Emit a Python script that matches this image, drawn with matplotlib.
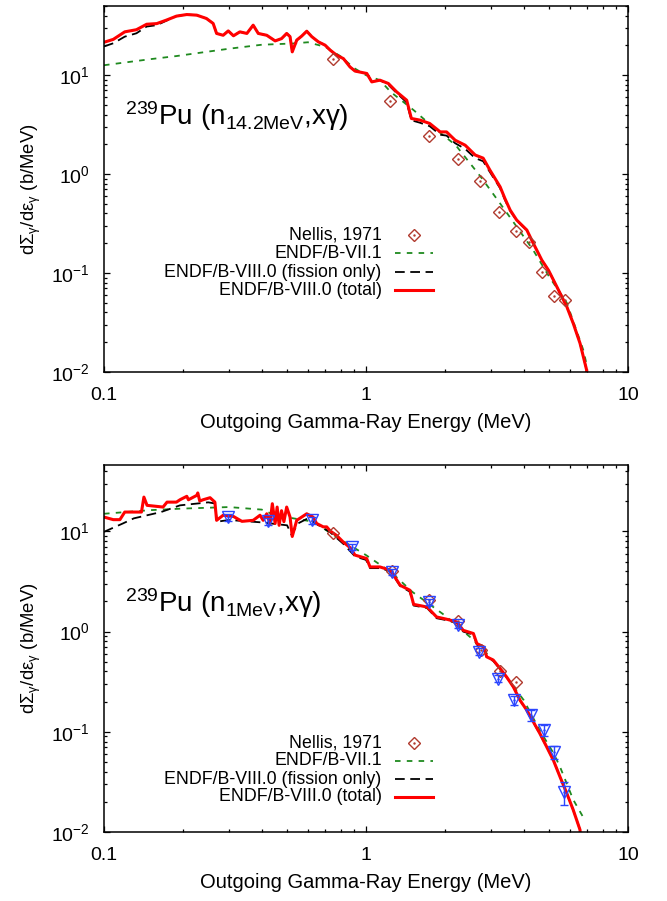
import matplotlib
matplotlib.use("Agg")
import matplotlib.pyplot as plt
from matplotlib.ticker import LogLocator, FixedLocator, FixedFormatter, NullFormatter

plt.rcParams['font.family'] = ['Liberation Sans', 'DejaVu Sans']
plt.rcParams['mathtext.fontset'] = 'custom'
plt.rcParams['mathtext.rm'] = 'Liberation Sans'
plt.rcParams['mathtext.it'] = 'Liberation Sans:italic'
plt.rcParams['mathtext.bf'] = 'Liberation Sans:bold'
plt.rcParams['lines.scale_dashes'] = False

# ---------------- Top panel: 239Pu (n 14.2 MeV, x gamma) ----------------
top_red_E = [0.100, 0.1085, 0.120, 0.133, 0.1455, 0.159, 0.173, 0.189, 0.207, 0.226,
             0.246, 0.261, 0.269, 0.285, 0.298, 0.312, 0.330, 0.351, 0.371, 0.388,
             0.418, 0.450, 0.476, 0.498, 0.513, 0.523, 0.544, 0.568, 0.594, 0.621,
             0.658, 0.698, 0.730, 0.773, 0.820, 0.869, 0.908, 1.007, 1.052, 1.13,
             1.217, 1.309, 1.43, 1.49, 1.61, 1.75, 1.92, 2.03, 2.19, 2.39,
             2.61, 2.80, 2.97, 3.25, 3.39, 3.55, 3.76, 4.11, 4.35, 4.69,
             4.97, 5.35, 5.84, 6.18, 6.56, 6.95, 7.0]
top_red_v = [21.5, 23.0, 27.4, 28.8, 32.7, 33.2, 36.0, 39.5, 41.0, 40.4,
             37.4, 33.3, 26.4, 25.3, 28.0, 25.0, 27.4, 26.4, 32.0, 26.4,
             25.3, 22.2, 23.4, 26.4, 24.5, 17.2, 22.6, 24.8, 27.8, 24.5,
             21.7, 20.1, 17.9, 15.9, 14.7, 12.1, 11.0, 10.4, 8.55, 8.9,
             8.24, 6.78, 5.58, 3.65, 3.51, 3.25, 2.67, 2.67, 2.20, 1.96,
             1.56, 1.45, 1.10, 0.744, 0.567, 0.433, 0.343, 0.272, 0.200, 0.135,
             0.107, 0.0727, 0.0457, 0.031, 0.0195, 0.0105, 0.005]

top_black_E = [0.100, 0.1085, 0.120, 0.133, 0.1455, 0.159, 0.173, 0.189, 0.207, 0.226,
               0.246, 0.261, 0.269, 0.285, 0.298, 0.312, 0.330, 0.351, 0.371, 0.388,
               0.418, 0.450, 0.476, 0.498, 0.513, 0.523, 0.544, 0.568, 0.594, 0.621,
               0.658, 0.698, 0.730, 0.773, 0.820, 0.869, 0.908, 1.007, 1.052, 1.13,
               1.217, 1.309, 1.43, 1.49, 1.61, 1.75, 1.92, 2.03, 2.19, 2.39,
               2.61, 2.80, 2.97, 3.25, 3.39, 3.55, 3.76, 4.11, 4.35, 4.69,
               4.97, 5.35, 5.84, 6.18, 6.56, 6.95, 7.0]
top_black_v = [19.5, 21.0, 24.5, 26.5, 31.0, 32.0, 35.5, 39.5, 41.0, 40.4,
               37.4, 33.3, 26.4, 25.3, 28.0, 25.0, 27.4, 26.4, 32.0, 26.4,
               25.3, 22.2, 23.4, 26.4, 24.5, 17.2, 22.6, 24.8, 27.8, 24.5,
               21.7, 20.1, 17.9, 15.9, 14.7, 12.1, 11.0, 10.4, 8.55, 8.9,
               8.0, 6.6, 5.3, 3.5, 3.3, 3.05, 2.5, 2.45, 2.05, 1.80,
               1.45, 1.35, 1.05, 0.72, 0.55, 0.425, 0.34, 0.27, 0.200, 0.135,
               0.107, 0.0727, 0.0457, 0.031, 0.0195, 0.0105, 0.005]

top_green_E = [0.100, 0.150, 0.189, 0.246, 0.300, 0.400, 0.526, 0.600, 0.700, 0.800,
               0.900, 1.000, 1.130, 1.240, 1.520, 1.800, 2.200, 2.740, 3.250, 3.760,
               4.350, 5.000, 5.840, 6.750, 7.000]
top_green_v = [12.6, 14.5, 15.6, 17.2, 18.5, 20.3, 20.9, 21.5, 19.3, 15.5,
               11.8, 10.0, 8.9, 6.8, 4.43, 3.0, 1.96, 0.94, 0.505, 0.294,
               0.17, 0.092, 0.050, 0.0167, 0.011]

top_nellis_E = [0.745, 1.24, 1.74, 2.24, 2.72, 3.23, 3.73, 4.18, 4.71, 5.22, 5.75]
top_nellis_v = [14.4, 5.5, 2.44, 1.41, 0.855, 0.41, 0.267, 0.207, 0.103, 0.059, 0.054]

# ---------------- Bottom panel: 239Pu (n 1 MeV, x gamma) ----------------
bot_red_E = [0.100, 0.1085, 0.115, 0.120, 0.139, 0.142, 0.146, 0.168, 0.174, 0.189,
             0.195, 0.207, 0.210, 0.226, 0.228, 0.232, 0.239, 0.254, 0.265, 0.269,
             0.285, 0.312, 0.336, 0.371, 0.394, 0.405, 0.418, 0.430, 0.439, 0.450,
             0.458, 0.466, 0.476, 0.486, 0.498, 0.513, 0.523, 0.544, 0.594, 0.628,
             0.648, 0.687, 0.708, 0.730, 0.773, 0.820, 0.869, 0.882, 0.908, 1.006,
             1.036, 1.13, 1.24, 1.35, 1.47, 1.52, 1.71, 1.86, 2.03, 2.22,
             2.35, 2.57, 2.65, 2.81, 2.89, 3.06, 3.25, 3.44, 3.65, 3.87,
             4.11, 4.35, 4.61, 4.89, 5.19, 5.50, 5.84, 6.18, 6.56, 6.65]
bot_red_v = [13.9, 13.1, 13.1, 15.6, 15.6, 22.0, 18.2, 17.5, 19.6, 19.6,
             20.7, 22.4, 20.7, 22.9, 24.2, 20.1, 20.7, 21.7, 19.6, 12.9,
             14.5, 14.1, 12.6, 12.9, 14.5, 12.9, 15.0, 12.0, 18.9, 12.0,
             17.5, 11.5, 16.1, 12.5, 17.5, 13.9, 8.9, 12.9, 15.0, 13.9,
             12.0, 11.1, 11.1, 10.1, 9.1, 7.8, 6.9, 6.5, 5.8, 5.36,
             4.42, 4.42, 4.1, 2.90, 2.59, 1.87, 1.76, 1.40, 1.33, 1.25,
             1.03, 0.957, 0.76, 0.704, 0.56, 0.52, 0.428, 0.353, 0.281, 0.207,
             0.164, 0.126, 0.096, 0.071, 0.052, 0.0356, 0.0243, 0.0166, 0.0105, 0.005]

bot_black_E = [0.100, 0.118, 0.130, 0.165, 0.195, 0.250, 0.265, 0.270, 0.300, 0.400,
               0.500, 0.520, 0.550, 0.600, 0.650, 0.730, 0.820, 0.910, 1.000, 1.036,
               1.13, 1.24, 1.35, 1.47, 1.52, 1.71, 1.86, 2.03, 2.22, 2.35,
               2.57, 2.65, 2.81, 2.89, 3.06, 3.25, 3.44, 3.65, 3.87, 4.11,
               4.35, 4.61, 4.89, 5.19, 5.50, 5.84, 6.18, 6.56, 6.65]
bot_black_v = [9.9, 12.0, 13.5, 15.6, 18.2, 19.5, 19.0, 12.5, 13.0, 12.3,
               11.5, 9.2, 12.0, 13.5, 11.8, 9.8, 7.5, 5.6, 5.2, 4.3,
               4.3, 4.0, 2.85, 2.5, 1.82, 1.72, 1.36, 1.30, 1.22, 1.0,
               0.93, 0.74, 0.69, 0.55, 0.51, 0.42, 0.35, 0.28, 0.205, 0.163,
               0.125, 0.095, 0.071, 0.052, 0.0356, 0.0243, 0.0166, 0.0105, 0.005]

bot_green_E = [0.100, 0.150, 0.200, 0.300, 0.400, 0.450, 0.628, 0.800, 1.000, 1.250,
               1.500, 2.000, 2.500, 3.000, 3.500, 4.000, 4.600, 5.200, 5.500, 6.180,
               6.860]
bot_green_v = [15.0, 16.3, 16.9, 17.5, 16.5, 14.5, 12.5, 8.3, 5.8, 3.9,
               2.5, 1.45, 0.88, 0.55, 0.33, 0.207, 0.104, 0.061, 0.0448, 0.021,
               0.013]

bot_nellis_E = [0.75, 1.255, 1.74, 2.25, 2.75, 3.25, 3.73]
bot_nellis_v = [9.7, 4.0, 2.06, 1.28, 0.65, 0.405, 0.311]

bot_tri_E = [0.298, 0.424, 0.621, 0.882, 1.26, 1.74, 2.25, 2.70, 3.18, 3.67,
             4.27, 4.78, 5.22, 5.71]
bot_tri_v = [13.9, 12.6, 12.9, 7.0, 3.94, 1.98, 1.16, 0.63, 0.34, 0.207,
             0.147, 0.104, 0.063, 0.025]
bot_tri_relerr = [0.08, 0.08, 0.08, 0.07, 0.07, 0.07, 0.07, 0.08, 0.08, 0.10,
                  0.12, 0.12, 0.15, 0.25]

legend_labels = ['Nellis, 1971', 'ENDF/B-VII.1', 'ENDF/B-VIII.0 (fission only)',
                 'ENDF/B-VIII.0 (total)']
x_ticks = [0.1, 1, 10]
x_tick_labels = ['0.1', '1', '10']

RED = '#ff0000'
GREEN = '#1f8a1f'
DIAM = '#b03a2e'
BLUE = '#2b45ff'

fig = plt.figure(figsize=(6.67, 9.01), dpi=100)
ax1 = fig.add_axes([104/667, 1-372/901, 524/667, 366/901])
ax2 = fig.add_axes([104/667, 1-832/901, 524/667, 367/901])


def style_axes(ax, ylim):
    ax.set_xscale('log')
    ax.set_yscale('log')
    ax.set_xlim(0.1, 10)
    ax.set_ylim(*ylim)
    ax.xaxis.set_major_locator(FixedLocator(x_ticks))
    ax.xaxis.set_major_formatter(FixedFormatter(x_tick_labels))
    ax.xaxis.set_minor_locator(LogLocator(base=10, subs=range(2, 10)))
    ax.xaxis.set_minor_formatter(NullFormatter())
    ax.yaxis.set_major_locator(LogLocator(base=10, numticks=10))
    ax.yaxis.set_minor_locator(LogLocator(base=10, subs=range(2, 10), numticks=20))
    ax.yaxis.set_minor_formatter(NullFormatter())
    ax.tick_params(which='both', direction='in', top=True, right=True,
                   labelsize=14, width=0.9)
    ax.tick_params(axis='x', which='major', pad=11)
    ax.tick_params(axis='y', which='major', pad=10)
    ax.tick_params(which='major', length=4)
    ax.tick_params(which='minor', length=2.2)
    for s in ax.spines.values():
        s.set_linewidth(1.1)
    ax.set_xlabel('Outgoing Gamma-Ray Energy (MeV)', fontsize=14.5, labelpad=6)
    ax.set_ylabel('dΣ$_{\\mathrm{γ}}$/dε$_{\\mathrm{γ}}$ (b/MeV)', fontsize=13.3)
    ax.yaxis.set_label_coords(-0.116, 0.5)


def draw_legend(ax, rows):
    tx = 0.530
    x0, x1, xm = 0.555, 0.628, 0.592
    kw = dict(transform=ax.transAxes, clip_on=False)
    for lab, y in zip(legend_labels, rows):
        ax.text(tx, y, lab, ha='right', va='center', fontsize=12.8,
                transform=ax.transAxes)
    ax.plot([xm], [rows[0]], marker='D', ms=6.5, mfc='none', mec=DIAM, mew=1.0, ls='none', **kw)
    ax.plot([xm], [rows[0]], marker='.', ms=1.5, color=DIAM, ls='none', **kw)
    ax.plot([x0, x1], [rows[1]] * 2, color=GREEN, lw=1.3, dashes=(4, 4.5), **kw)
    ax.plot([x0, x1], [rows[2]] * 2, color='black', lw=1.3, dashes=(7, 4), **kw)
    ax.plot([x0, x1], [rows[3]] * 2, color=RED, lw=2.2, **kw)


# --- top panel
ax1.plot(top_green_E, top_green_v, color=GREEN, lw=1.3, dashes=(4, 4.5))
ax1.plot(top_black_E, top_black_v, color='black', lw=1.3, dashes=(7, 4))
ax1.plot(top_red_E, top_red_v, color=RED, lw=2.2)
ax1.plot(top_nellis_E, top_nellis_v, ls='none', marker='D', ms=6.5, mfc='none', mec=DIAM, mew=1.0)
ax1.plot(top_nellis_E, top_nellis_v, ls='none', marker='.', ms=1.5, color=DIAM)
style_axes(ax1, (0.01, 50))
draw_legend(ax1, [0.374, 0.324, 0.273, 0.223])
ax1.text(0.040, 0.698, '$^{239}$Pu (n$_{\\mathrm{14.2MeV}}$,xγ)', fontsize=20,
         transform=ax1.transAxes, ha='left', va='center')

# --- bottom panel
ax2.plot(bot_green_E, bot_green_v, color=GREEN, lw=1.3, dashes=(4, 4.5))
ax2.plot(bot_black_E, bot_black_v, color='black', lw=1.3, dashes=(7, 4))
ax2.plot(bot_red_E, bot_red_v, color=RED, lw=2.2)
ax2.plot(bot_nellis_E, bot_nellis_v, ls='none', marker='D', ms=6.5, mfc='none', mec=DIAM, mew=1.0)
ax2.plot(bot_nellis_E, bot_nellis_v, ls='none', marker='.', ms=1.5, color=DIAM)
tri_err = [v * f for v, f in zip(bot_tri_v, bot_tri_relerr)]
ax2.errorbar(bot_tri_E, bot_tri_v, yerr=[tri_err, tri_err], fmt='v', ms=8,
             mfc='none', mec=BLUE, mew=1.0, ecolor=BLUE, elinewidth=1.0,
             capsize=3, capthick=1.0)
ax2.plot(bot_tri_E, bot_tri_v, ls='none', marker='.', ms=1.5, color=BLUE)
style_axes(ax2, (0.01, 46))
draw_legend(ax2, [0.2425, 0.1935, 0.1444, 0.0954])
ax2.text(0.040, 0.624, '$^{239}$Pu (n$_{\\mathrm{1MeV}}$,xγ)', fontsize=20,
         transform=ax2.transAxes, ha='left', va='center')

fig.savefig('out.png', dpi=100)
